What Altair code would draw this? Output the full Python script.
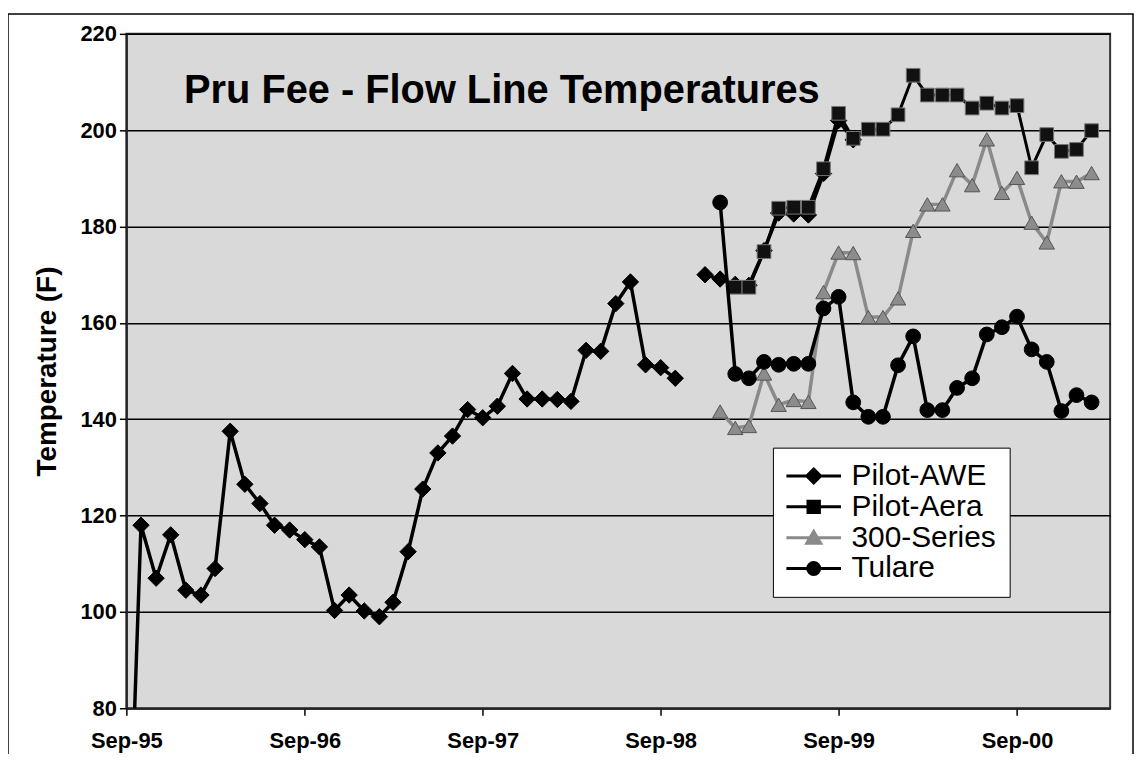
import altair as alt
import pandas as pd

# ---------------- data ----------------
months = [d.strftime("%Y-%m-%dT00:00:00") for d in pd.date_range("1995-09-01", periods=66, freq="MS")]

series_names = ["Pilot-AWE", "Pilot-Aera", "300-Series", "Tulare"]

pilot_awe = [30, 118, 107, 116, 104.5, 103.5, 109, 137.5, 126.5, 122.5, 118, 117,
             115, 113.5, 100.3, 103.5, 100.2, 99, 102, 112.5, 125.5, 133, 136.5, 142,
             140.3, 142.7, 149.5, 144.2, 144.2, 144.1, 143.7, 154.3, 154.1, 164, 168.5, 151.3,
             150.7, 148.5, None, 170, 169.1, 168, 167.8, 175, 182.8, 182.6, 182.4, 191,
             202, 198] + [None] * 16

pilot_aera = [None] * 41 + [167.4, 167.4, 174.8, 183.8, 184, 184, 192, 203.5, 198.3, 200.2,
                            200.2, 203.2, 211.4, 207.3, 207.3, 207.3, 204.6, 205.6, 204.6,
                            205.1, 192.2, 199.1, 195.6, 196, 199.9]

series_300 = [None] * 40 + [141.6, 138.2, 138.6, 149.5, 143, 144, 143.6, 166.4, 174.6, 174.5,
                            161.2, 161.2, 165.1, 179.1, 184.6, 184.6, 191.7, 188.6, 198.1, 187,
                            190.1, 180.8, 176.7, 189.4, 189.3, 191.1]

tulare = [None] * 40 + [185, 149.4, 148.5, 151.9, 151.3, 151.5, 151.5, 163, 165.4, 143.5,
                        140.5, 140.5, 151.2, 157.2, 141.9, 141.9, 146.5, 148.5, 157.6, 159.1,
                        161.3, 154.5, 151.9, 141.7, 145, 143.5]

y_ticks = [80, 100, 120, 140, 160, 180, 200, 220]
x_tick_years = [1995, 1996, 1997, 1998, 1999, 2000]
chart_title = "Pru Fee - Flow Line Temperatures"
y_title = "Temperature (F)"

# ---------------- long table, with a segment id so gaps break the line ----------------
rows = []
for name, vals in zip(series_names, [pilot_awe, pilot_aera, series_300, tulare]):
    seg = 0
    for m, v in zip(months, vals):
        if v is None:
            seg += 1
            continue
        rows.append({"date": m, "value": v, "series": name, "seg": f"{name}-{seg}"})
df = pd.DataFrame(rows)

FONT = "Liberation Sans"

x_enc = alt.X(
    "date:T",
    scale=alt.Scale(domain=[alt.DateTime(year=1995, month=9, date=1),
                            alt.DateTime(year=2001, month=3, date=11)]),
    axis=alt.Axis(
        values=[alt.DateTime(year=y, month=9, date=1) for y in x_tick_years],
        format="%b-%y", title=None, grid=False,
        labelFont=FONT, labelFontSize=22, labelFontWeight="bold", labelColor="black",
        labelPadding=15, labelFlush=False, labelOverlap=False,
        tickSize=7, tickColor="black", tickWidth=1.5,
        domainColor="#222", domainWidth=2,
    ),
)
y_enc = alt.Y(
    "value:Q",
    scale=alt.Scale(domain=[80, 220], nice=False, zero=False),
    axis=alt.Axis(
        values=y_ticks, title=y_title, grid=True, gridColor="black", gridWidth=1.5,
        labelFont=FONT, labelFontSize=22, labelFontWeight="bold", labelColor="black",
        labelPadding=3, tickSize=7, tickColor="black", tickWidth=1.5,
        domainColor="#222", domainWidth=2,
        titleFont=FONT, titleFontSize=28, titleFontWeight="bold", titleColor="black",
        titleX=-65, titleY=339,
    ),
)

base = alt.Chart(df)

styles = {
    "Pilot-AWE": dict(line="black", lw=3.5, shape="diamond", size=270, fill="black", stroke="black"),
    "Pilot-Aera": dict(line="black", lw=3, shape="square", size=190, fill="#111111", stroke="#777777"),
    "300-Series": dict(line="#8a8a8a", lw=3.5, shape="triangle-up", size=240, fill="#8c8c8c", stroke="#555555"),
    "Tulare": dict(line="black", lw=3.5, shape="circle", size=220, fill="black", stroke="black"),
}

layers = []

# outer frame (decoration)
frame = alt.Chart(pd.DataFrame({"f": [0]})).mark_rect(
    fillOpacity=0, stroke="black", strokeWidth=1.5, clip=False
).encode(x=alt.value(-119), x2=alt.value(1012), y=alt.value(-20), y2=alt.value(760))
layers.append(frame)

for name in series_names:
    st = styles[name]
    sub = base.transform_filter(alt.datum.series == name)
    layers.append(sub.mark_line(color=st["line"], strokeWidth=st["lw"], clip=True).encode(
        x=x_enc, y=y_enc, detail="seg:N"))
    layers.append(sub.mark_point(shape=st["shape"], size=st["size"], filled=True, opacity=1,
                                 fill=st["fill"], stroke=st["stroke"], strokeWidth=1,
                                 clip=True).encode(x=x_enc, y=y_enc))

# legend (line + marker symbols); symbol size 784 -> unit = 14 px
legend_paths = [
    "M-1.96,0L1.96,0M0,-0.5L0.5,0L0,0.5L-0.5,0Z",
    "M-1.96,0L1.96,0M-0.41,-0.41L0.41,-0.41L0.41,0.41L-0.41,0.41Z",
    "M-1.96,0L1.96,0M0,-0.45L0.5,0.4L-0.5,0.4Z",
    "M-1.96,0L1.96,0M0.43,0A0.43,0.43 0 1,1 -0.43,0A0.43,0.43 0 1,1 0.43,0Z",
]
legend_colors = ["black", "black", "#8a8a8a", "black"]
leg = alt.Legend(
    orient="none", legendX=650, legendY=416, title=None,
    labelFont=FONT, labelFontSize=30, labelColor="black", labelLimit=0,
    labelOffset=22.5, symbolOffset=12.5,
    symbolSize=784, symbolStrokeWidth=3, symbolOpacity=1,
    strokeColor="black", fillColor="white", padding=13, rowPadding=0, cornerRadius=0,
)
legend_layer = base.transform_filter("false").mark_point(filled=True, opacity=1).encode(
    x=x_enc, y=y_enc,
    shape=alt.Shape("series:N", scale=alt.Scale(domain=series_names, range=legend_paths), legend=leg),
    fill=alt.Fill("series:N", scale=alt.Scale(domain=series_names, range=legend_colors), legend=leg),
    stroke=alt.Stroke("series:N", scale=alt.Scale(domain=series_names, range=legend_colors), legend=leg),
)
layers.append(legend_layer)

# title inside the plot area
title_layer = alt.Chart(pd.DataFrame({"t": [chart_title]})).mark_text(
    align="left", baseline="alphabetic", font=FONT, fontSize=40, fontWeight="bold", color="black"
).encode(text="t:N", x=alt.value(58), y=alt.value(70))
layers.append(title_layer)

chart = alt.layer(*layers).properties(
    width=989, height=678,
    autosize=alt.AutoSizeParams(type="none"),
    padding={"left": 119, "top": 24, "right": 24, "bottom": 44},
    background="white",
).configure_view(
    fill="#d9d9d9", stroke="#333333", strokeWidth=2
)

chart.save("out.html", embed_options={"renderer": "svg", "actions": False})
